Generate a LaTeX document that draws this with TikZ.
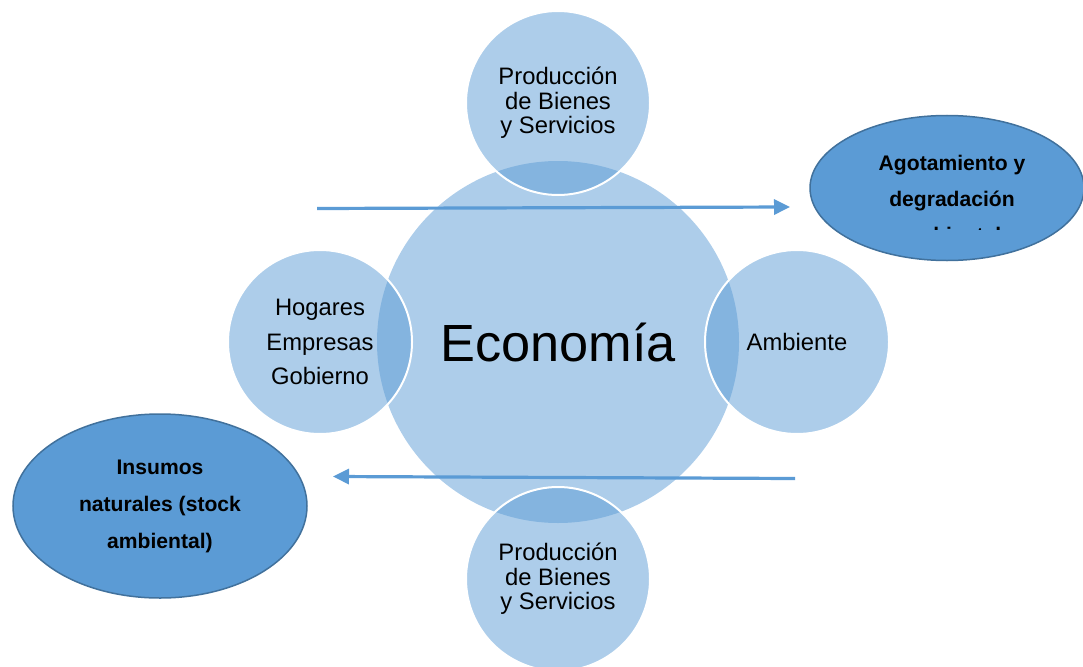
\documentclass[tikz,border=0pt]{standalone}
\usepackage{fontspec}
\setmainfont{Liberation Sans}
\usetikzlibrary{shapes.geometric,arrows.meta}
\definecolor{accent}{HTML}{5B9BD5}
\definecolor{accentdark}{HTML}{41719C}
\begin{document}
\begin{tikzpicture}[x={(1pt,0pt)},y={(0pt,-1pt)},
  maincirc/.style={circle, fill=accent, fill opacity=0.5, text opacity=1,
    minimum size=362pt, inner sep=0pt, font=\fontsize{52.3}{56}\selectfont},
  sat/.style={circle, fill=accent, fill opacity=0.5, text opacity=1,
    draw=white, draw opacity=1, line width=2pt, minimum size=184pt,
    inner sep=0pt, align=center, font=\fontsize{23.8}{24.5}\selectfont},
  satwide/.style={sat, font=\fontsize{23.8}{34.5}\selectfont},
  stockell/.style={ellipse, fill=accent, draw=accentdark, line width=1.5pt,
    inner sep=0pt, align=center},
  etext/.style={align=center, inner sep=0pt},
  flow/.style={draw=accent, line width=3.2pt, -{Triangle[length=16pt,width=15pt]}}
]
\useasboundingbox (0,0) rectangle (1083,666);
\clip (0,0) rectangle (1083,666);

% ellipses
\node[stockell, minimum width=274pt, minimum height=145pt] (agot) at (947,188) {};
\begin{scope}
  \clip (805,100) rectangle (1083,229.5);
  \node[etext, font=\bfseries\fontsize{21.1}{36}\selectfont] (agottxt) at (952,198.5)
    {Agotamiento y\\degradación\\ambiental};
\end{scope}
\node[stockell, minimum width=294pt, minimum height=184pt,
  font=\bfseries\fontsize{21.1}{37}\selectfont] (insumos) at (160,506)
  {Insumos\\naturales (stock\\ambiental)};

% circles
\node[maincirc] (eco) at (558,342) {Economía};
\node[sat] (top) at (558,103) {Producción\\de Bienes\\y Servicios};
\node[sat] (bot) at (558,579) {Producción\\de Bienes\\y Servicios};
\node[satwide] (hog) at (320,342) {Hogares\\Empresas\\Gobierno};
\node[sat] (amb) at (797,342) {Ambiente};

% arrows
\coordinate (a1s) at (317,208.5);
\coordinate (a1e) at (790,207);
\coordinate (a2s) at (795,478.5);
\coordinate (a2e) at (333,476.5);
\draw[flow] (a1s) -- (a1e);
\draw[flow] (a2s) -- (a2e);
\end{tikzpicture}
\end{document}
